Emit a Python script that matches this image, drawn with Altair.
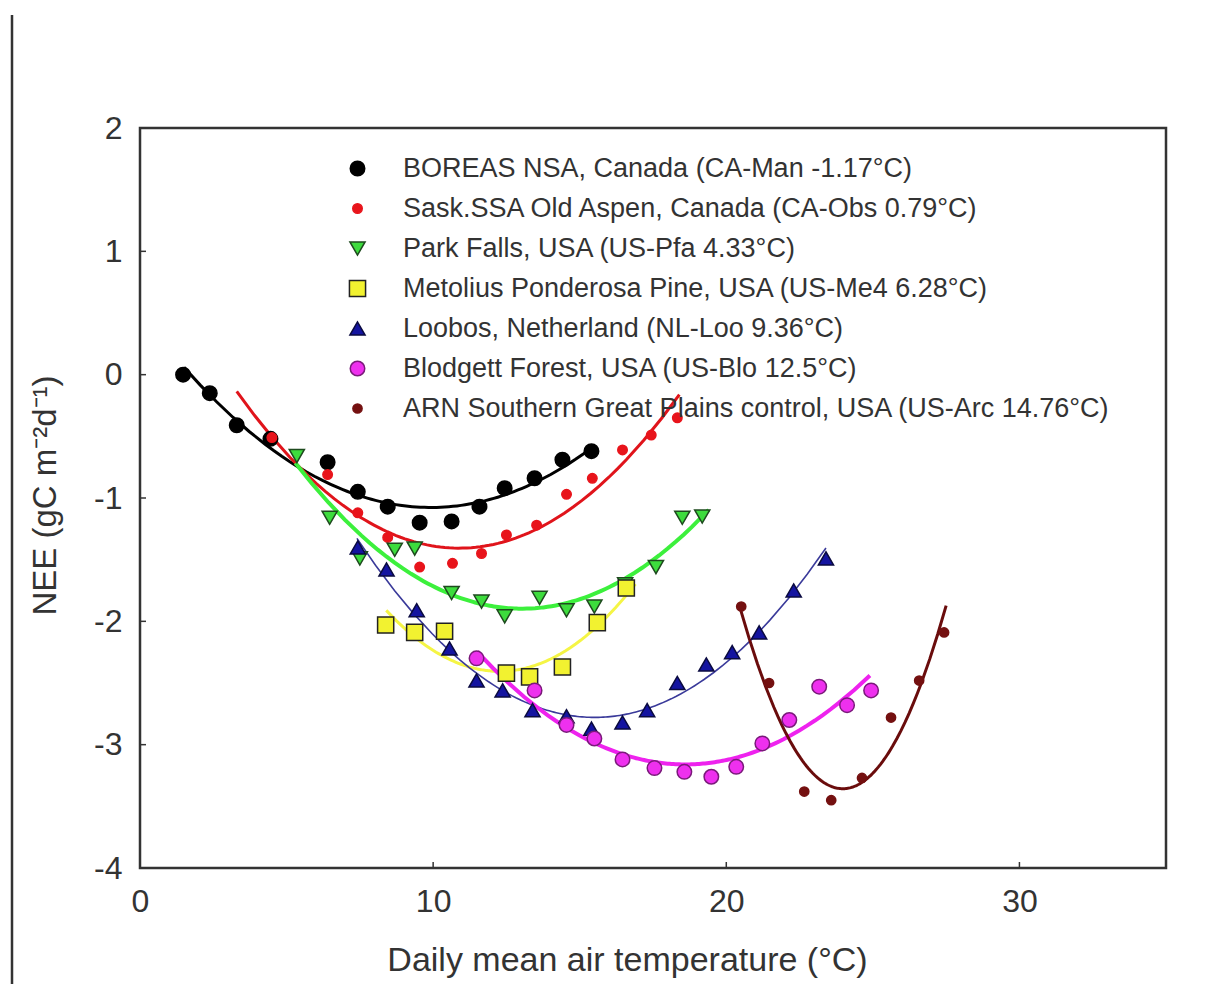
import altair as alt
import pandas as pd

# ---- data ----
names = [
    "BOREAS NSA, Canada (CA-Man -1.17°C)",
    "Sask.SSA Old Aspen, Canada  (CA-Obs 0.79°C)",
    "Park Falls, USA (US-Pfa 4.33°C)",
    "Metolius Ponderosa Pine, USA (US-Me4 6.28°C)",
    "Loobos, Netherland (NL-Loo 9.36°C)",
    "Blodgett Forest, USA (US-Blo 12.5°C)",
    "ARN Southern Great Plains control, USA (US-Arc 14.76°C)",
]

bor_x = [1.47, 2.38, 3.30, 4.45, 6.40, 7.43, 8.45, 9.54, 10.63, 11.58, 12.44, 13.46, 14.41, 15.40]
bor_y = [0.00, -0.15, -0.41, -0.52, -0.71, -0.95, -1.07, -1.20, -1.19, -1.07, -0.92, -0.84, -0.69, -0.62]

obs_x = [4.50, 6.40, 7.43, 8.45, 9.54, 10.66, 11.65, 12.50, 13.53, 14.55, 15.43, 16.46, 17.44, 18.33]
obs_y = [-0.51, -0.81, -1.12, -1.32, -1.56, -1.53, -1.45, -1.30, -1.22, -0.97, -0.84, -0.61, -0.49, -0.35]

pfa_x = [5.35, 6.47, 7.50, 8.69, 9.37, 10.63, 11.65, 12.44, 13.63, 14.55, 15.50, 16.55, 17.60, 18.50, 19.18]
pfa_y = [-0.66, -1.16, -1.49, -1.42, -1.41, -1.77, -1.84, -1.96, -1.81, -1.91, -1.88, -1.70, -1.56, -1.16, -1.15]

me4_x = [8.38, 9.37, 10.39, 12.50, 13.29, 14.41, 15.60, 16.59]
me4_y = [-2.03, -2.09, -2.08, -2.42, -2.45, -2.37, -2.01, -1.73]

loo_x = [7.43, 8.41, 9.44, 10.56, 11.48, 12.37, 13.39, 14.55, 15.40, 16.46, 17.30, 18.33, 19.32, 20.20, 21.12, 22.30, 23.40]
loo_y = [-1.40, -1.58, -1.91, -2.22, -2.48, -2.56, -2.72, -2.77, -2.87, -2.82, -2.72, -2.50, -2.35, -2.25, -2.09, -1.75, -1.49]

blo_x = [11.48, 13.46, 14.55, 15.50, 16.46, 17.55, 18.57, 19.49, 20.34, 21.23, 22.15, 23.17, 24.12, 24.94]
blo_y = [-2.30, -2.56, -2.84, -2.95, -3.12, -3.19, -3.22, -3.26, -3.18, -2.99, -2.80, -2.53, -2.68, -2.56]

arc_x = [20.51, 21.46, 22.66, 23.58, 24.63, 25.62, 26.58, 27.43]
arc_y = [-1.88, -2.50, -3.38, -3.45, -3.27, -2.78, -2.48, -2.09]

fit_extents = [[1.5, 15.4], [3.3, 18.4], [5.3, 19.4], [8.4, 16.9], [7.4, 23.4], [11.5, 24.9], [20.5, 27.5]]

x_ticks = [0, 10, 20, 30]
y_ticks = [-4, -3, -2, -1, 0, 1, 2]

# ---- styles ----
fills = ["#000000", "#e8141b", "#3ddc3d", "#f2f230", "#1414a0", "#ee30ee", "#741010"]
strokes = ["#000000", "#e8141b", "#1e4a1e", "#222222", "#0a0a40", "#7a1a7a", "#741010"]
shapes = ["circle", "circle", "triangle-down", "square", "triangle-up", "circle", "circle"]
sizes = [210, 90, 230, 260, 230, 210, 85]
line_colors = ["#000000", "#e0141b", "#3cf03c", "#f5f545", "#3a3a9a", "#ee22ee", "#6a0c0c"]
line_widths = [3, 3, 4, 3, 1.6, 4, 3]

xs_all = [bor_x, obs_x, pfa_x, me4_x, loo_x, blo_x, arc_x]
ys_all = [bor_y, obs_y, pfa_y, me4_y, loo_y, blo_y, arc_y]

rows = []
for n, xs, ys in zip(names, xs_all, ys_all):
    for a, b in zip(xs, ys):
        rows.append({"series": n, "t": a, "nee": b})
df = pd.DataFrame(rows)

W, H = 1026, 740
FONT = "Liberation Sans"
xscale = alt.Scale(domain=[0, 35], nice=False, zero=False)
yscale = alt.Scale(domain=[-4, 2], nice=False, zero=False)

x_axis = alt.Axis(values=x_ticks, ticks=False, domain=False, grid=False, labelFlush=False,
                  labelExpr="datum.value + ''",
                  labelFontSize=32, labelPadding=18, labelColor="#333333", labelFont=FONT,
                  title="Daily mean air temperature (°C)", titleFontSize=34, titleFont=FONT,
                  titleFontWeight="normal", titleColor="#333333",
                  titleX=487, titleY=102, titleBaseline="alphabetic", titleAlign="center")
y_axis = alt.Axis(values=y_ticks, ticks=False, domain=False, grid=False, labelFlush=False,
                  labelExpr="datum.value + ''",
                  labelFontSize=32, labelPadding=18, labelColor="#333333", labelFont=FONT,
                  title="NEE (gC m⁻²d⁻¹)", titleFontSize=33, titleFont=FONT,
                  titleFontWeight="normal", titleColor="#333333",
                  titleX=-78, titleY=367, titleAngle=-90, titleBaseline="bottom", titleAlign="center")

X = alt.X("t:Q", scale=xscale, axis=x_axis)
Y = alt.Y("nee:Q", scale=yscale, axis=y_axis)

layers = []
for n, ext, col, wid in zip(names, fit_extents, line_colors, line_widths):
    layers.append(
        alt.Chart(df)
        .transform_filter(alt.datum.series == n)
        .transform_regression("t", "nee", method="poly", order=2, extent=ext)
        .mark_line(color=col, strokeWidth=wid)
        .encode(x=X, y=Y)
    )

legend = alt.Legend(title=None, orient="none", legendX=204, legendY=27, padding=0,
                    labelFontSize=27, labelFont=FONT, labelColor="#333333", labelLimit=1000,
                    labelOffset=32, rowPadding=12, symbolStrokeWidth=1.5)

points = alt.Chart(df).mark_point(filled=True, opacity=1, strokeWidth=1.5).encode(
    x=X, y=Y,
    fill=alt.Fill("series:N", scale=alt.Scale(domain=names, range=fills), legend=legend),
    stroke=alt.Stroke("series:N", scale=alt.Scale(domain=names, range=strokes), legend=legend),
    shape=alt.Shape("series:N", scale=alt.Scale(domain=names, range=shapes), legend=legend),
    size=alt.Size("series:N", scale=alt.Scale(type="ordinal", domain=names, range=sizes), legend=legend),
)
layers.append(points)

xt = alt.Chart(pd.DataFrame({"t": x_ticks})).mark_rule(color="#333333", strokeWidth=1.5).encode(
    x=X, y=alt.value(H), y2=alt.value(H - 6))
yt = alt.Chart(pd.DataFrame({"nee": y_ticks})).mark_rule(color="#333333", strokeWidth=1.5).encode(
    y=Y, x=alt.value(0), x2=alt.value(6))
layers += [xt, yt]

side = alt.Chart(pd.DataFrame({"a": [0]})).mark_rule(color="#333333", strokeWidth=2.5).encode(
    x=alt.value(-128), y=alt.value(-113), y2=alt.value(H + 116))
layers.append(side)

chart = alt.layer(*layers).properties(
    width=W, height=H,
    autosize=alt.AutoSizeParams(type="none"),
    padding={"left": 132, "top": 120, "right": 30, "bottom": 116},
    background="white",
).configure_view(stroke="#333333", strokeWidth=2.5)

chart.save("out.html", embed_options={"renderer": "svg", "actions": False})
